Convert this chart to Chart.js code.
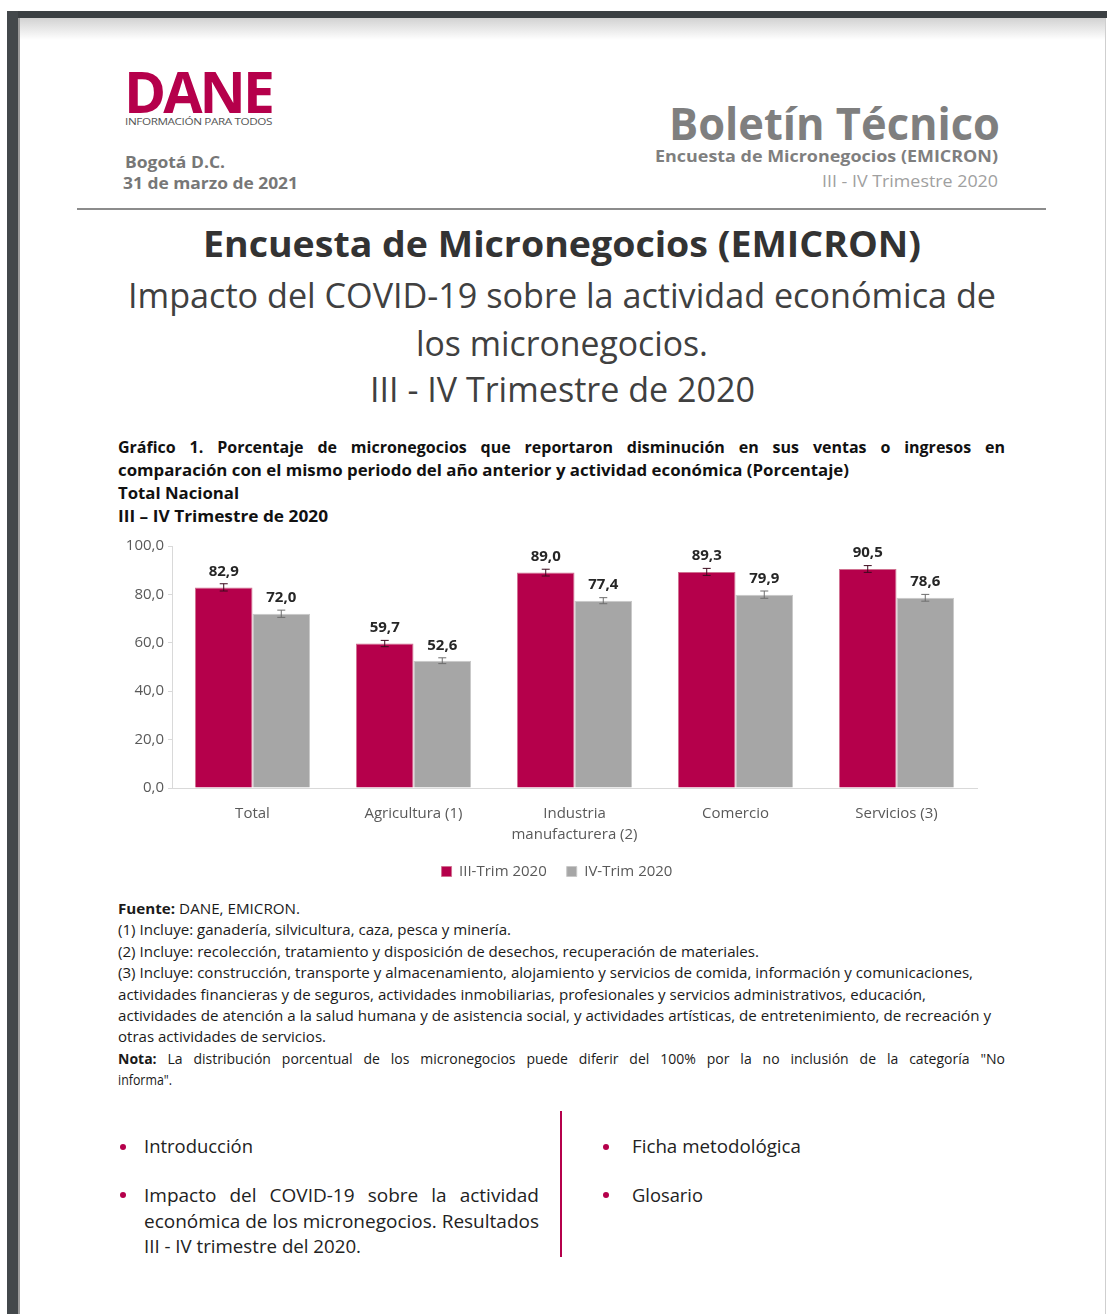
<!DOCTYPE html>
<html lang="es">
<head>
<meta charset="utf-8">
<script src="https://cdn.jsdelivr.net/npm/chart.js@4.4.1/dist/chart.umd.min.js"></script>
<style>
  html, body { margin: 0; padding: 0; background: #ffffff; }
  body { width: 1107px; height: 1314px; position: relative; overflow: hidden; font-family: "Open Sans", "Liberation Sans", sans-serif; }
  .t { position: absolute; white-space: nowrap; line-height: 1.2; }
  .topband { position: absolute; left: 7px; top: 11px; width: 1100px; height: 7px; background: #3b4043; }
  .topshade { position: absolute; left: 19px; top: 18px; width: 1087px; height: 22px; background: linear-gradient(#d2d2d2, #ffffff); }
  .leftband { position: absolute; left: 7px; top: 11px; width: 11px; height: 1303px; background: #43484b; }
  .leftshade { position: absolute; left: 18px; top: 18px; width: 2px; height: 1296px; background: #9a9a9a; }
  .rightline { position: absolute; left: 1105px; top: 18px; width: 1px; height: 1296px; background: #cfcfcf; }
  .hr { position: absolute; left: 77px; top: 208px; width: 969px; height: 2px; background: #8c8c8c; }
  .vline { position: absolute; left: 560px; top: 1111px; width: 2px; height: 146px; background: #b5004b; }
  .dot { position: absolute; width: 6px; height: 6px; border-radius: 50%; background: #b5004b; }
  #wrap { position: absolute; left: 100px; top: 530px; width: 914px; height: 359px; }
</style>
</head>
<body>
<div class="topband"></div>
<div class="topshade"></div>
<div class="leftband"></div>
<div class="leftshade"></div>
<div class="rightline"></div>

<!-- Logo -->
<div class="t" data-x="124" data-y="91" data-w="148" style="font-size:58px;font-weight:700;color:#b5004b;letter-spacing:-3px;">DANE</div>
<div class="t" data-x="125" data-y="122" data-w="147" style="font-size:9px;color:#555;letter-spacing:-0.3px;">INFORMACIÓN PARA TODOS</div>

<div class="t" data-x="125" data-y="163" data-w="100" style="font-size:16px;font-weight:700;color:#777;">Bogotá D.C.</div>
<div class="t" data-x="123" data-y="184" data-w="175" style="font-size:16px;font-weight:700;color:#777;">31 de marzo de 2021</div>

<div class="t" data-x="669" data-y="123" data-w="331" style="font-size:45px;font-weight:700;color:#7f7f7f;">Boletín Técnico</div>
<div class="t" data-x="655" data-y="157" data-w="343" style="font-size:16px;font-weight:700;color:#7f7f7f;">Encuesta de Micronegocios (EMICRON)</div>
<div class="t" data-x="822" data-y="182" data-w="176" style="font-size:16px;color:#a0a0a0;">III - IV Trimestre 2020</div>

<div class="hr"></div>

<div class="t" data-x="203" data-y="244" data-w="718" style="font-size:36px;font-weight:700;color:#333;">Encuesta de Micronegocios (EMICRON)</div>
<div class="t" data-x="128" data-y="295" data-w="868" style="font-size:34px;color:#404040;">Impacto del COVID-19 sobre la actividad económica de</div>
<div class="t" data-x="416" data-y="343" data-w="292" style="font-size:34px;color:#404040;">los micronegocios.</div>
<div class="t" data-x="370" data-y="389" data-w="385" style="font-size:34px;color:#404040;">III - IV Trimestre de 2020</div>

<div class="t" data-x="118" data-y="448" data-w="887" data-j="1" style="font-size:16px;font-weight:700;color:#111;">Gráfico 1. Porcentaje de micronegocios que reportaron disminución en sus ventas o ingresos en</div>
<div class="t" data-x="118" data-y="471" data-w="731" style="font-size:16px;font-weight:700;color:#111;">comparación con el mismo periodo del año anterior y actividad económica (Porcentaje)</div>
<div class="t" data-x="118" data-y="494" data-w="121" style="font-size:16px;font-weight:700;color:#111;">Total Nacional</div>
<div class="t" data-x="118" data-y="517" data-w="210" style="font-size:16px;font-weight:700;color:#111;">III – IV Trimestre de 2020</div>

<div id="wrap"><canvas id="c"></canvas></div>

<div class="t" data-x="118" data-y="909" data-w="182" style="font-size:14px;color:#1a1a1a;"><b>Fuente:</b> DANE, EMICRON.</div>
<div class="t" data-x="118" data-y="930" data-w="393" style="font-size:14px;color:#1a1a1a;">(1) Incluye: ganadería, silvicultura, caza, pesca y minería.</div>
<div class="t" data-x="118" data-y="952" data-w="641" style="font-size:14px;color:#1a1a1a;">(2) Incluye: recolección, tratamiento y disposición de desechos, recuperación de materiales.</div>
<div class="t" data-x="118" data-y="973" data-w="855" style="font-size:14px;color:#1a1a1a;">(3) Incluye: construcción, transporte y almacenamiento, alojamiento y servicios de comida, información y comunicaciones,</div>
<div class="t" data-x="118" data-y="995" data-w="808" style="font-size:14px;color:#1a1a1a;">actividades financieras y de seguros, actividades inmobiliarias, profesionales y servicios administrativos, educación,</div>
<div class="t" data-x="118" data-y="1016" data-w="873" style="font-size:14px;color:#1a1a1a;">actividades de atención a la salud humana y de asistencia social, y actividades artísticas, de entretenimiento, de recreación y</div>
<div class="t" data-x="118" data-y="1037" data-w="208" style="font-size:14px;color:#1a1a1a;">otras actividades de servicios.</div>
<div class="t" data-x="118" data-y="1059" data-w="887" data-j="1" style="font-size:14px;color:#1a1a1a;"><b>Nota:</b> La distribución porcentual de los micronegocios puede diferir del 100% por la no inclusión de la categoría "No</div>
<div class="t" data-x="118" data-y="1080" data-w="54" style="font-size:14px;color:#1a1a1a;">informa".</div>

<div class="vline"></div>
<div class="dot" style="left:120px;top:1144px;"></div>
<div class="dot" style="left:120px;top:1192px;"></div>
<div class="dot" style="left:603px;top:1144px;"></div>
<div class="dot" style="left:603px;top:1192px;"></div>
<div class="t" data-x="144" data-y="1146" data-w="109" style="font-size:19px;color:#222;">Introducción</div>
<div class="t" data-x="144" data-y="1195" data-w="395" data-j="1" style="font-size:19px;color:#222;">Impacto del COVID-19 sobre la actividad</div>
<div class="t" data-x="144" data-y="1221" data-w="395" data-j="1" style="font-size:19px;color:#222;">económica de los micronegocios. Resultados</div>
<div class="t" data-x="144" data-y="1246" data-w="217" style="font-size:19px;color:#222;">III - IV trimestre del 2020.</div>
<div class="t" data-x="632" data-y="1146" data-w="169" style="font-size:19px;color:#222;">Ficha metodológica</div>
<div class="t" data-x="632" data-y="1195" data-w="71" style="font-size:19px;color:#222;">Glosario</div>

<script>
// ---- Data ----
const categories = ['Total', 'Agricultura (1)', ['Industria', 'manufacturera (2)'], 'Comercio', 'Servicios (3)'];
const seriesNames = ['III-Trim 2020', 'IV-Trim 2020'];
const valuesIII = [82.9, 59.7, 89.0, 89.3, 90.5];
const valuesIV = [72.0, 52.6, 77.4, 79.9, 78.6];
const errorsIII = [1.5, 1.3, 1.4, 1.45, 1.4];
const errorsIV = [1.5, 1.2, 1.25, 1.5, 1.4];
const yTickLabels = ['0,0', '20,0', '40,0', '60,0', '80,0', '100,0'];

// ---- Text fitting for page text ----
document.querySelectorAll('.t').forEach(el => {
  const x = +el.dataset.x, y = +el.dataset.y, w = +el.dataset.w;
  el.style.left = x + 'px';
  el.style.top = y + 'px';
  const nat = el.getBoundingClientRect().width;
  let s = w / nat;
  if (el.dataset.j) {
    const spaces = (el.textContent.match(/ /g) || []).length;
    if (nat < w && spaces) {
      el.style.wordSpacing = ((w - nat) / spaces) + 'px';
      s = 1;
    }
  }
  el.style.transformOrigin = 'left center';
  el.style.transform = 'translateY(-50%) scaleX(' + s + ')';
});

// ---- Plugins ----
const fmt = v => v.toFixed(1).replace('.', ',');
const errorsBySet = [errorsIII, errorsIV];
const errColors = ['#3d0a1e', '#6e6e6e'];

const errorBars = {
  id: 'errorBars',
  afterDatasetsDraw(chart) {
    const ctx = chart.ctx;
    const ys = chart.scales.y;
    chart.data.datasets.forEach((ds, i) => {
      const meta = chart.getDatasetMeta(i);
      meta.data.forEach((bar, j) => {
        const v = ds.data[j], e = errorsBySet[i][j];
        const top = ys.getPixelForValue(v + e), bot = ys.getPixelForValue(v - e);
        ctx.save();
        ctx.strokeStyle = errColors[i];
        ctx.lineWidth = 1;
        ctx.beginPath();
        ctx.moveTo(bar.x, top); ctx.lineTo(bar.x, bot);
        ctx.moveTo(bar.x - 4, top); ctx.lineTo(bar.x + 4, top);
        ctx.moveTo(bar.x - 4, bot); ctx.lineTo(bar.x + 4, bot);
        ctx.stroke();
        ctx.fillStyle = '#262626';
        ctx.font = 'bold 15px "Open Sans", sans-serif';
        ctx.textAlign = 'center';
        ctx.textBaseline = 'bottom';
        ctx.fillText(fmt(v), bar.x, top - 5);
        ctx.restore();
      });
    });
  }
};

// Centre the legend under the whole figure (as in the original) rather than under the plot box
const legendShift = {
  id: 'legendShift',
  afterLayout(chart) {
    if (chart.legend) { chart.legend.left += 37; }
  }
};

new Chart(document.getElementById('c'), {
  type: 'bar',
  data: {
    labels: categories,
    datasets: [
      { label: seriesNames[0], data: valuesIII, backgroundColor: '#b5004b', borderColor: '#d07090', borderWidth: 1 },
      { label: seriesNames[1], data: valuesIV, backgroundColor: '#a6a6a6', borderColor: '#c8c8c8', borderWidth: 1 }
    ]
  },
  options: {
    responsive: true,
    maintainAspectRatio: false,
    animation: false,
    datasets: { bar: { categoryPercentage: 0.715, barPercentage: 1.0 } },
    layout: { padding: { top: 16, right: 37, left: 0, bottom: 0 } },
    plugins: {
      legend: {
        position: 'bottom',
        labels: {
          boxWidth: 10, boxHeight: 10, padding: 20,
          color: '#595959',
          font: { family: '"Open Sans", sans-serif', size: 15 }
        }
      },
      tooltip: { enabled: false }
    },
    scales: {
      x: {
        grid: { display: true, drawOnChartArea: false, drawTicks: false, color: '#d9d9d9' },
        border: { display: true, color: '#d9d9d9', width: 1 },
        ticks: { color: '#595959', padding: 15, font: { family: '"Open Sans", sans-serif', size: 15, lineHeight: 1.4 } },
        afterFit(scale) { scale.height = 56; }
      },
      y: {
        min: 0, max: 100,
        ticks: {
          stepSize: 20, color: '#595959', padding: 4,
          font: { family: '"Open Sans", sans-serif', size: 15 },
          callback: (v) => yTickLabels[Math.round(v / 20)]
        },
        grid: { display: true, drawOnChartArea: false, tickLength: 4, color: '#d9d9d9' },
        border: { display: true, color: '#d9d9d9', width: 1 },
        afterFit(scale) { scale.width = 72; }
      }
    }
  },
  plugins: [errorBars, legendShift]
});
</script>
</body>
</html>
